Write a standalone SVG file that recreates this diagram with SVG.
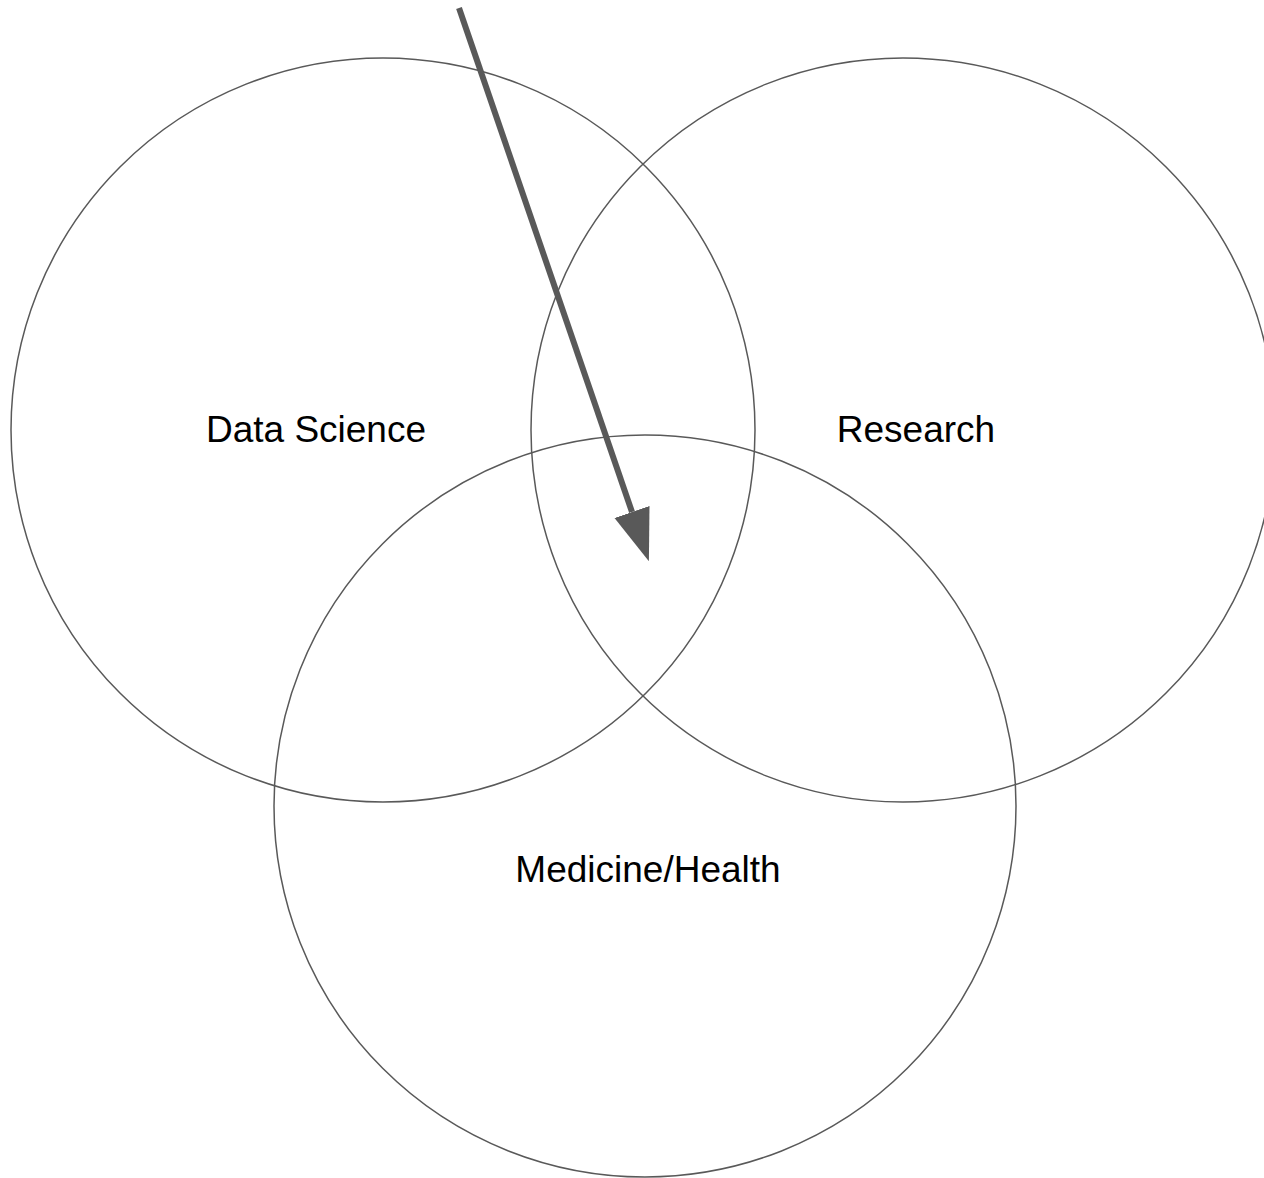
<svg xmlns="http://www.w3.org/2000/svg" width="1264" height="1178" viewBox="0 0 1264 1178">
  <style>
    .ring { fill: none; stroke: #595959; stroke-width: 1.5; }
    .label { font-family: "Liberation Sans", Arial, sans-serif; font-size: 37px; fill: #000000; text-anchor: middle; }
    .pointer { stroke: #595959; stroke-width: 6; fill: none; }
  </style>
  <defs>
    <marker id="head" markerUnits="userSpaceOnUse" markerWidth="54" markerHeight="40" refX="0" refY="18.5" orient="auto">
      <path d="M0,0 L52,18.5 L0,37 z" fill="#595959"/>
    </marker>
  </defs>
  <rect width="1264" height="1178" fill="#ffffff"/>

  <g id="data-science">
    <circle class="ring" cx="383" cy="430" r="372"/>
    <text class="label" x="316" y="442">Data Science</text>
  </g>

  <g id="research">
    <circle class="ring" cx="903" cy="430" r="372"/>
    <text class="label" x="916" y="442">Research</text>
  </g>

  <g id="medicine-health">
    <circle class="ring" cx="645" cy="806" r="371"/>
    <text class="label" x="648" y="882">Medicine/Health</text>
  </g>

  <g id="connectors">
    <line class="pointer" x1="459" y1="8" x2="632" y2="512" marker-end="url(#head)"/>
  </g>
</svg>
